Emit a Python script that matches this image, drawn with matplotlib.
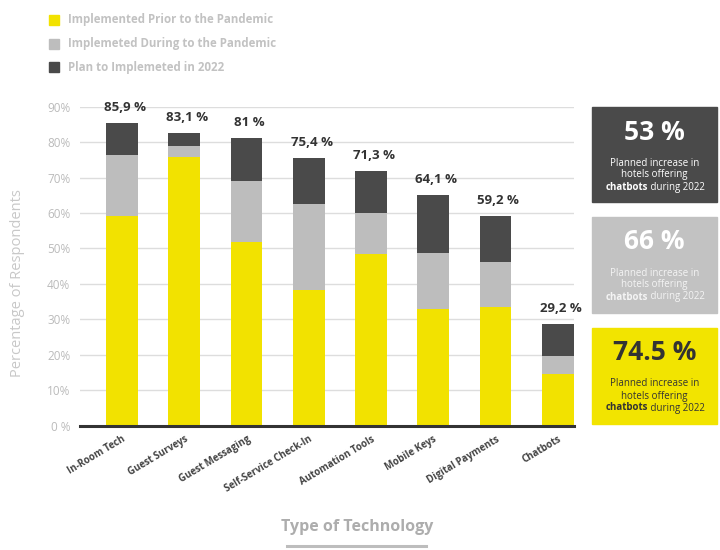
import numpy as np
import matplotlib.pyplot as plt
import matplotlib.transforms as mtransforms
from matplotlib.patches import Rectangle
from matplotlib.lines import Line2D

plt.rcParams['font.family'] = ['Open Sans', 'DejaVu Sans']

# data
categories = ["In-Room Tech", "Guest Surveys", "Guest Messaging", "Self-Service Check-In",
              "Automation Tools", "Mobile Keys", "Digital Payments", "Chatbots"]
prior = [59.2, 75.9, 51.7, 38.4, 48.5, 32.8, 33.4, 14.6]
during = [17.2, 3.1, 17.4, 24.1, 11.5, 15.8, 12.8, 5.2]
plan = [9.1, 3.6, 12.1, 13.0, 11.9, 16.5, 12.9, 9.0]
totals = ["85,9 %", "83,1 %", "81 %", "75,4 %", "71,3 %", "64,1 %", "59,2 %", "29,2 %"]
series_names = ["Implemented Prior to the Pandemic", "Implemeted During to the Pandemic",
                "Plan to Implemeted in 2022"]
yticks = [0, 10, 20, 30, 40, 50, 60, 70, 80, 90]
ytick_labels = ["0 %", "10%", "20%", "30%", "40%", "50%", "60%", "70%", "80%", "90%"]
box_values = ["53 %", "66 %", "74.5 %"]

YELLOW = "#f2e200"
GREY = "#bdbdbd"
DARK = "#4a4a4a"
colors = [YELLOW, GREY, DARK]

W, H = 720, 550
fig = plt.figure(figsize=(W / 100, H / 100), dpi=100)
fig.patch.set_facecolor("white")


def fx(px):
    return px / W


def fy(py):
    return 1 - py / H


ax = fig.add_axes([fx(80), fy(425.7), fx(574) - fx(80), fy(106.7) - fy(425.7)])

x = np.arange(len(categories))
prior = np.array(prior)
during = np.array(during)
plan = np.array(plan)
ax.bar(x, prior, width=0.51, color=YELLOW, zorder=3)
ax.bar(x, during, width=0.51, bottom=prior, color=GREY, zorder=3)
ax.bar(x, plan, width=0.51, bottom=prior + during, color=DARK, zorder=3)

top = prior + during + plan
for xi, t, lab in zip(x, top, totals):
    ax.annotate(lab, (xi, t), xytext=(2, 11), textcoords="offset points",
                ha="center", va="center", fontsize=9.5, fontweight="bold",
                color="#333333", annotation_clip=False)

ax.set_xlim(-0.674, 7.26)
ax.set_ylim(0, 90)
ax.set_yticks(yticks)
ax.set_yticklabels(ytick_labels, color="#bbbbbb", fontsize=8.5)
ax.set_xticks(x)
ax.set_xticklabels(categories, rotation=31, ha="right", rotation_mode="anchor",
                   fontsize=7, color="#444444", fontweight="bold")
shift = mtransforms.ScaledTranslation(3 / 100, 0, fig.dpi_scale_trans)
for lbl in ax.get_xticklabels():
    lbl.set_transform(lbl.get_transform() + shift)
ax.tick_params(axis="both", length=0)
ax.tick_params(axis="y", pad=7)
ax.tick_params(axis="x", pad=6)
ax.yaxis.grid(True, color="#dddddd", linewidth=1, zorder=0)
for s in ["top", "right", "left"]:
    ax.spines[s].set_visible(False)
ax.spines["bottom"].set_color("#333333")
ax.spines["bottom"].set_linewidth(2.2)
ax.spines["bottom"].set_zorder(4)

# y label
fig.text(fx(18), fy(283), "Percentage of Respondents", rotation=90, ha="center",
         va="center", fontsize=10.5, color="#c8c8c8")

# x label with underline
fig.text(fx(357), fy(527), "Type of Technology", ha="center", va="center",
         fontsize=11.5, fontweight="bold", color="#adadad")
fig.add_artist(Line2D([fx(287), fx(426)], [fy(546), fy(546)], color="#bdbdbd",
                      linewidth=2.2, transform=fig.transFigure))

# legend
for i, (name, c) in enumerate(zip(series_names, colors)):
    yc = [20, 44, 67][i]
    fig.add_artist(Rectangle((fx(49), fy(yc + 5)), fx(10), 10 / H, color=c,
                             transform=fig.transFigure))
    fig.text(fx(68), fy(yc), name, ha="left", va="center", fontsize=8.3,
             fontweight="bold", color="#c2c2c2")

# right boxes
boxes = [(107, 202, DARK, "white", "white"),
         (217, 313, "#c2c2c2", "white", "#f4f4f4"),
         (328, 424, "#f2e400", "#333333", "#333333")]
for (y0, y1, bg, big_c, small_c), val in zip(boxes, box_values):
    fig.add_artist(Rectangle((fx(592), fy(y1)), fx(717) - fx(592), (y1 - y0) / H,
                             color=bg, transform=fig.transFigure))
    cx = (592 + 717) / 2
    fig.text(fx(cx), fy(y0 + 25), val, ha="center", va="center", fontsize=19,
             fontweight="bold", color=big_c)
    fig.text(fx(cx), fy(y0 + 56), "Planned increase in", ha="center", va="center",
             fontsize=7, color=small_c)
    fig.text(fx(cx), fy(y0 + 68), "hotels offering", ha="center", va="center",
             fontsize=7, color=small_c)
    fig.text(fx(648), fy(y0 + 80), "chatbots", ha="right", va="center",
             fontsize=7, fontweight="bold", color=small_c)
    fig.text(fx(648), fy(y0 + 80), " during 2022", ha="left", va="center",
             fontsize=7, color=small_c)

fig.savefig("out.png", dpi=100)
